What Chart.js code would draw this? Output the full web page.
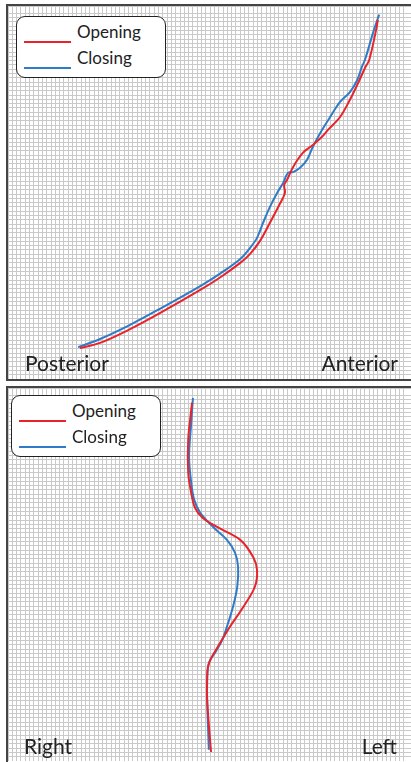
<!DOCTYPE html>
<html>
<head>
<meta charset="utf-8">
<script src="https://cdn.jsdelivr.net/npm/chart.js@4.4.1/dist/chart.umd.min.js"></script>
<style>
  html, body { margin: 0; padding: 0; background: #fff; overflow: hidden; }
  body { width: 411px; height: 762px; position: relative; font-family: Lato, "Open Sans", sans-serif; }
  .panel { position: absolute; left: 6px; width: 420px; border: 2px solid #444; }
  .panel canvas { position: absolute; left: 0; top: 0; }
  .legend { position: absolute; background: #fff; border: 1.5px solid #222; border-radius: 9px; width: 148px; height: 60px; }
  .legend .item { position: absolute; left: 0; width: 148px; height: 26px; }
  .legend .swatch { position: absolute; left: 7px; width: 47px; height: 2px; }
  .legend .name { position: absolute; left: 60px; font-size: 17px; color: #222; line-height: 20px; }
  .end { position: absolute; font-size: 21px; color: #222; line-height: 24px; }
</style>
</head>
<body>
<div class="panel" id="topPanel" style="top:4px;height:373px">
  <canvas id="topChart" width="403" height="373"></canvas>
</div>
<div class="panel" id="bottomPanel" style="top:386px;height:380px">
  <canvas id="bottomChart" width="403" height="373"></canvas>
</div>
<div class="legend" id="topLegend" style="left:16px;top:16px"></div>
<div class="legend" id="bottomLegend" style="left:11px;top:395px"></div>
<div class="end" style="left:25px;top:351px" id="topLeftLabel"></div>
<div class="end" style="right:13px;top:351px" id="topRightLabel"></div>
<div class="end" style="left:24px;top:734px" id="bottomLeftLabel"></div>
<div class="end" style="right:14px;top:734px" id="bottomRightLabel"></div>

<script>
// names and end labels
const seriesNames = ['Opening', 'Closing'];
const seriesColors = ['#e8232b', '#2f7bc8'];
const topEndLabels = ['Posterior', 'Anterior'];
const bottomEndLabels = ['Right', 'Left'];

// top view (posterior -> anterior), grid units
const topOpeningX = [16.7, 21.4, 28.4, 35.3, 44.7, 49.3, 54.0, 56.3, 58.6, 60.9, 63.3, 64.4, 64.2, 64.9, 66.3, 68.6, 70.9, 73.0, 74.4, 77.2, 79.5, 81.4, 83.0, 84.0, 85.6, 86.0];
const topOpeningY = [7.2, 8.4, 11.6, 15.3, 20.7, 23.6, 27.0, 29.1, 32.1, 36.3, 40.9, 43.3, 45.1, 46.3, 49.3, 52.6, 54.4, 56.3, 57.9, 60.9, 64.9, 68.8, 72.3, 74.2, 81.2, 83.5];
const topClosingX = [16.3, 21.4, 28.4, 35.3, 44.7, 49.3, 54.0, 56.3, 57.9, 59.3, 60.9, 62.6, 64.0, 65.1, 66.3, 67.9, 69.5, 70.9, 72.6, 74.9, 77.2, 79.5, 81.2, 82.3, 83.0, 85.1, 86.3];
const topClosingY = [7.4, 9.3, 12.6, 16.3, 21.6, 24.5, 27.9, 30.5, 32.8, 36.3, 40.0, 43.3, 45.6, 47.9, 48.1, 49.1, 50.9, 54.0, 57.2, 60.9, 64.4, 66.7, 69.5, 72.6, 74.2, 81.2, 84.7];

// front view (right -> left), grid units
const botOpeningX = [42.8, 42.6, 41.9, 41.9, 42.6, 43.5, 45.3, 48.6, 54.0, 57.0, 57.9, 57.4, 54.7, 51.6, 49.3, 47.4, 46.5, 46.3, 46.3, 47.2];
const botOpeningY = [83.3, 81.6, 74.7, 67.0, 62.3, 58.8, 56.5, 54.4, 51.4, 47.4, 44.4, 40.5, 35.8, 31.2, 27.4, 24.2, 21.9, 18.8, 14.2, 2.1];
const botClosingX = [43.0, 42.6, 42.1, 42.6, 43.3, 44.7, 47.7, 50.9, 52.8, 53.5, 53.3, 52.3, 50.9, 49.8, 48.1, 47.0, 46.5, 46.3, 46.3, 46.7];
const botClosingY = [84.4, 78.6, 70.7, 64.7, 60.7, 57.7, 54.4, 51.4, 48.4, 45.1, 40.5, 35.8, 31.2, 28.1, 25.1, 23.5, 21.9, 18.8, 14.2, 2.6];

const xMax = 93.7;
const yMax = 86.7;

function toPoints(xs, ys) {
  return xs.map((x, i) => ({ x: x, y: ys[i] }));
}

function gridAxis(max) {
  return {
    type: 'linear',
    min: 0,
    max: max,
    ticks: { display: false, stepSize: 1 },
    grid: { color: '#c9c9c9', lineWidth: 1, drawTicks: false, tickLength: 0 },
    border: { display: false }
  };
}

function makeChart(id, lines) {
  return new Chart(document.getElementById(id), {
    type: 'scatter',
    data: {
      datasets: lines.map((pts, i) => ({
        label: seriesNames[i],
        data: pts,
        showLine: true,
        borderColor: seriesColors[i],
        borderWidth: 2,
        pointRadius: 0,
        tension: 0.35,
        fill: false
      }))
    },
    options: {
      responsive: false,
      animation: false,
      layout: { padding: 0 },
      plugins: { legend: { display: false }, tooltip: { enabled: false } },
      scales: { x: gridAxis(xMax), y: gridAxis(yMax) }
    }
  });
}

function buildLegend(el, chart) {
  chart.data.datasets.forEach((ds, i) => {
    const item = document.createElement('div');
    item.className = 'item';
    item.style.top = (5 + i * 26) + 'px';
    item.innerHTML = `<div class="swatch" style="top:19px;background:${ds.borderColor}"></div><div class="name" style="top:0px">${ds.label}</div>`;
    el.appendChild(item);
  });
}

const topChart = makeChart('topChart', [toPoints(topOpeningX, topOpeningY), toPoints(topClosingX, topClosingY)]);
const bottomChart = makeChart('bottomChart', [toPoints(botOpeningX, botOpeningY), toPoints(botClosingX, botClosingY)]);

buildLegend(document.getElementById('topLegend'), topChart);
buildLegend(document.getElementById('bottomLegend'), bottomChart);

document.getElementById('topLeftLabel').textContent = topEndLabels[0];
document.getElementById('topRightLabel').textContent = topEndLabels[1];
document.getElementById('bottomLeftLabel').textContent = bottomEndLabels[0];
document.getElementById('bottomRightLabel').textContent = bottomEndLabels[1];
</script>
</body>
</html>
